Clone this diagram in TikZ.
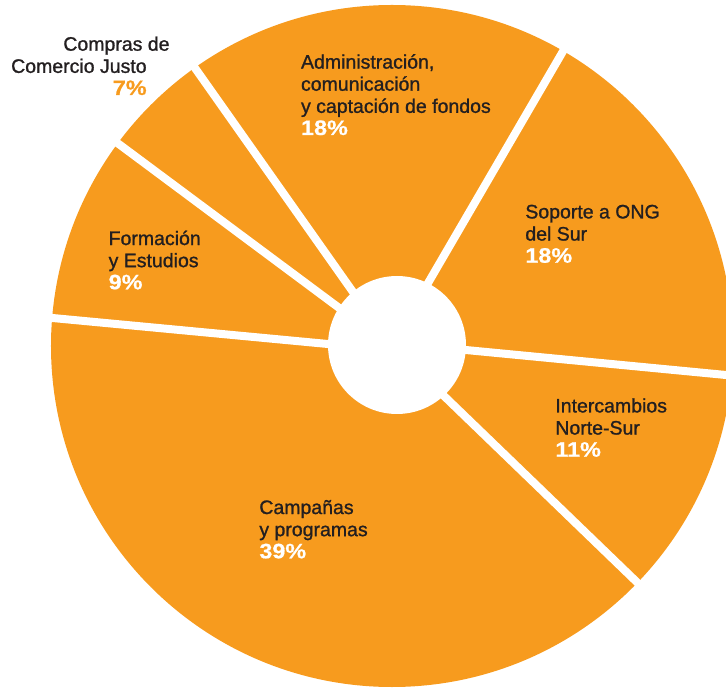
\documentclass[tikz,border=0pt]{standalone}
\usepackage{fontspec}
\setmainfont{Liberation Sans}
\newfontfamily\medfont[FakeBold=1.1]{Liberation Sans}
\newfontfamily\pctfont[FakeStretch=1.12,FakeBold=0.6]{Liberation Sans Bold}
\usepackage{tikz}

\definecolor{pieorange}{RGB}{247,155,30}
\definecolor{ink}{RGB}{35,31,32}
\newcommand\lblfont{\medfont\fontsize{11.1}{12.6}\selectfont}
\newcommand\pct[2][white]{\textcolor{#1}{\pctfont\fontsize{11.9}{12.8}\selectfont #2}}

\begin{document}
\begin{tikzpicture}[x=0.02cm,y=0.02cm]
    \tikzstyle{lbl}=[inner sep=0pt,align=left,anchor=base west,text=ink,font=\lblfont]
    \tikzstyle{gap}=[draw=white,line width=0.16cm]
    \useasboundingbox (-392,-343) rectangle (334,346);
    \fill[pieorange] (0,0) circle (341);
    \foreach \a/\b in {{-44,0.1}/{-350,29},{-38,27}/{-282,208.5},{-27.5,37.7}/{-203,286.5},
                       {26,45.7}/{175,301.6},{54,-2.1}/{360,-31.5},{36.6,-35.1}/{252,-243}}
        \draw[gap] (\a) -- (\b);
    \fill[white] (5,1) circle (69);

    \node[lbl] (admin) at (-91.3,211) {Administración,\\comunicación\\y captación de fondos\\\pct{18\%}};
    \node[lbl] (soporte) at (133,83.3) {Soporte a ONG\\del Sur\\\pct{18\%}};
    \node[lbl] (interc) at (163,-110.7) {Intercambios\\Norte-Sur\\\pct{11\%}};
    \node[lbl] (campanas) at (-133,-212.3) {Campañas\\y programas\\\pct{39\%}};
    \node[lbl] (formacion) at (-283.7,56.7) {Formación\\y Estudios\\\pct{9\%}};
    \node[lbl] (compras) at (-329,295.3) {Compras de};
    \node[lbl,align=right,anchor=base east] (justo) at (-245,251) {Comercio Justo\\\pct[pieorange]{7\%}};
\end{tikzpicture}
\end{document}
